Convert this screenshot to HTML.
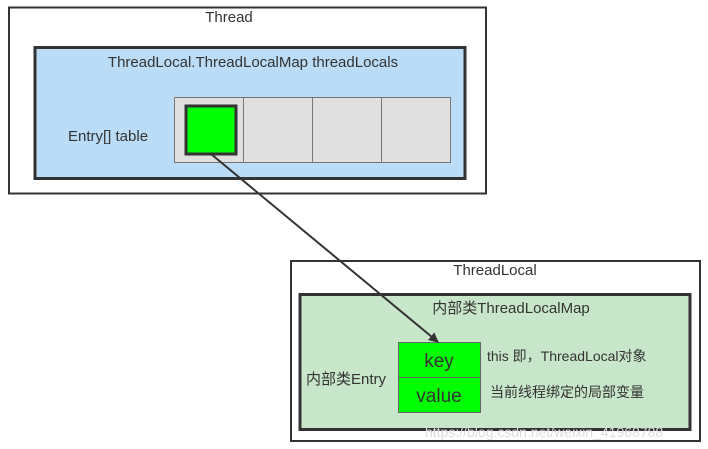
<!DOCTYPE html>
<html><head><meta charset="utf-8"><style>
html,body{margin:0;padding:0;background:#fff;width:708px;height:449px;overflow:hidden}
svg{display:block}
text{font-family:"Liberation Sans","Noto Sans CJK SC",sans-serif;fill:#333}
</style></head><body>
<svg width="708" height="449" viewBox="0 0 708 449" xmlns="http://www.w3.org/2000/svg">
<defs><marker id="ah" markerWidth="10" markerHeight="10" refX="9" refY="5" orient="auto" markerUnits="userSpaceOnUse" viewBox="0 0 10 10"><path d="M0,0 L10,5 L0,10 z" fill="#333"/></marker></defs>
<rect x="9" y="7.5" width="477" height="186" fill="#fff" stroke="#333" stroke-width="2"/>
<text x="229" y="22" font-size="15" text-anchor="middle">Thread</text>
<rect x="35" y="47.5" width="430" height="131" fill="#badcf7" stroke="#333" stroke-width="3"/>
<text x="253" y="67" font-size="15" text-anchor="middle">ThreadLocal.ThreadLocalMap threadLocals</text>
<text x="68" y="141" font-size="15">Entry[] table</text>
<rect x="174.5" y="97.5" width="69" height="65" fill="#e0e0e0" stroke="#777"/>
<rect x="243.5" y="97.5" width="69" height="65" fill="#e0e0e0" stroke="#777"/>
<rect x="312.5" y="97.5" width="69" height="65" fill="#e0e0e0" stroke="#777"/>
<rect x="381.5" y="97.5" width="69" height="65" fill="#e0e0e0" stroke="#777"/>
<rect x="186" y="106" width="50" height="48" fill="#00ff00" stroke="#333" stroke-width="3"/>
<rect x="291" y="261" width="409" height="180" fill="#fff" stroke="#333" stroke-width="2"/>
<text x="495" y="275" font-size="15" text-anchor="middle">ThreadLocal</text>
<rect x="300" y="294.5" width="390" height="135" fill="#c8e6c9" stroke="#333" stroke-width="3"/>
<text x="511" y="313" font-size="15" text-anchor="middle">内部类ThreadLocalMap</text>
<text x="306" y="384" font-size="15">内部类Entry</text>
<rect x="398.5" y="342.5" width="82" height="70" fill="#00ff00" stroke="#666"/>
<line x1="398.5" y1="377.5" x2="480.5" y2="377.5" stroke="#666"/>
<text x="439" y="367" font-size="19" text-anchor="middle">key</text>
<text x="439" y="402" font-size="19" text-anchor="middle">value</text>
<text x="487" y="361" font-size="14">this 即，ThreadLocal对象</text>
<text x="490" y="397" font-size="14">当前线程绑定的局部变量</text>
<line x1="211" y1="154" x2="438" y2="342" stroke="#333" stroke-width="2" marker-end="url(#ah)"/>
<text x="425" y="437" font-size="14" style="fill:#ddd">https://blog.csdn.net/weixin_41968788</text>
</svg>
</body></html>
